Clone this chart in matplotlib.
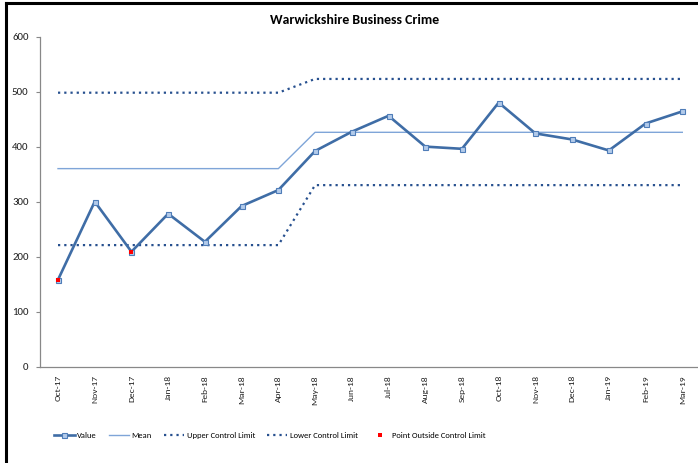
import matplotlib
matplotlib.use("Agg")
import matplotlib.pyplot as plt
from matplotlib.lines import Line2D
import numpy as np

months = ["Oct-17", "Nov-17", "Dec-17", "Jan-18", "Feb-18", "Mar-18", "Apr-18", "May-18",
          "Jun-18", "Jul-18", "Aug-18", "Sep-18", "Oct-18", "Nov-18", "Dec-18", "Jan-19",
          "Feb-19", "Mar-19"]
value = [158, 300, 209, 278, 227, 292, 321, 392, 427, 456, 400, 396, 480, 424, 413, 393, 442, 464]
mean = [360, 360, 360, 360, 360, 360, 360] + [426] * 11
ucl = [498, 498, 498, 498, 498, 498, 498] + [523] * 11
lcl = [221, 221, 221, 221, 221, 221, 221] + [330] * 11

plt.rcParams["font.family"] = ["Carlito", "DejaVu Sans"]

x = np.arange(len(months))
v = np.array(value, dtype=float)
outside = np.where((v > np.array(ucl)) | (v < np.array(lcl)), v, np.nan)

fig = plt.figure(figsize=(6.98, 4.63), dpi=100)
ax = fig.add_axes([0.0568, 0.208, 0.947, 0.713])

line_col = "#3F6DA6"
ctrl_col = "#27508F"
dots = (0, (1, 1.8))

ax.plot(x, mean, color="#7FA5D8", linewidth=1.0, zorder=2)
ax.plot(x, ucl, color=ctrl_col, linewidth=1.6, linestyle=dots, zorder=2)
ax.plot(x, lcl, color=ctrl_col, linewidth=1.6, linestyle=dots, zorder=2)
ax.plot(x, value, color=line_col, linewidth=1.9, marker="s", markersize=3.6,
        markerfacecolor="#B3CBEA", markeredgecolor="#4F7DB8", markeredgewidth=0.8, zorder=3)
ax.plot(x, outside, linestyle="none", marker="s", markersize=3.4, color="#FF0000",
        markeredgewidth=0, zorder=4)

ax.set_xlim(-0.5, len(months) - 0.5)
ax.set_ylim(0, 600)
ax.set_yticks(range(0, 601, 100))
ax.set_xticks(x)
ax.set_xticklabels(months, rotation=90, fontsize=6.8, color="#222222")
ax.tick_params(axis="x", length=0, pad=6)
ax.tick_params(axis="y", labelsize=7.8, length=3, color="#888888", labelcolor="#222222", pad=5)
for s in ["top", "right"]:
    ax.spines[s].set_visible(False)
for s in ["left", "bottom"]:
    ax.spines[s].set_color("#888888")
    ax.spines[s].set_linewidth(0.9)

fig.text(0.508, 0.957, "Warwickshire Business Crime", ha="center", va="center",
         fontsize=10, fontweight="bold")

handles = [
    Line2D([], [], color=line_col, linewidth=1.9, marker="s", markersize=3.6,
           markerfacecolor="#B3CBEA", markeredgecolor="#4F7DB8", markeredgewidth=0.8),
    Line2D([], [], color="#7FA5D8", linewidth=1.0),
    Line2D([], [], color=ctrl_col, linewidth=1.6, linestyle=dots),
    Line2D([], [], color=ctrl_col, linewidth=1.6, linestyle=dots),
    Line2D([], [], linestyle="none", marker="s", markersize=3.4, color="#FF0000", markeredgewidth=0),
]
labels = ["Value", "Mean", "Upper Control Limit", "Lower Control Limit", "Point Outside Control Limit"]
fig.legend(handles, labels, loc="center", bbox_to_anchor=(0.387, 0.06), ncol=5, frameon=False,
           fontsize=6.1, handlelength=2.4, columnspacing=1.4, handletextpad=0.3)

# border of the chart area
fig.add_artist(Line2D([0.008, 0.008], [0, 0.994], color="black", linewidth=2.2))
fig.add_artist(Line2D([0.008, 1.0], [0.994, 0.994], color="black", linewidth=2.2))

fig.savefig("out.png", dpi=100)
